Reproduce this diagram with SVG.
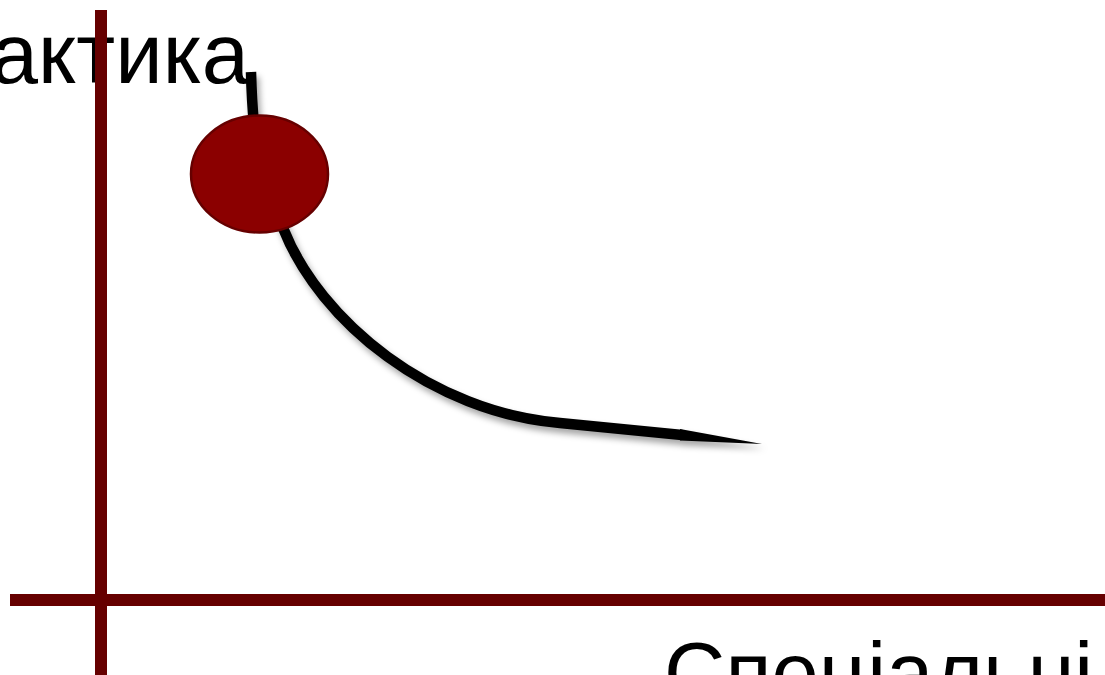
<svg xmlns="http://www.w3.org/2000/svg" width="1105" height="675" viewBox="0 0 1105 675">
<style>
.lbl{font-family:"Liberation Sans",Arial,sans-serif;font-size:85px;fill:#000}
.axis{fill:#660000}
</style>
<defs>
<filter id="sh" x="-20%" y="-20%" width="140%" height="140%">
<feDropShadow dx="3" dy="5" stdDeviation="3" flood-color="#000" flood-opacity="0.35"/>
</filter>
</defs>
<rect width="1105" height="675" fill="#fff"/>
<g id="labels">
<text class="lbl" x="249" y="83" text-anchor="end">Практика</text>
<text class="lbl" x="664" y="702">Спеціальні</text>
</g>
<g id="axes">
<rect class="axis" x="95" y="10" width="12" height="665"/>
<rect class="axis" x="10" y="594" width="1095" height="12"/>
</g>
<g id="connectors" filter="url(#sh)">
<path d="M251,72 C253,150 262,190 283,228 C320,322 432,412 560,423 L682,435" fill="none" stroke="#000" stroke-width="10.5"/>
<polygon points="680,429 762,444 680,440.5" fill="#000"/>
</g>
<g id="node">
<ellipse cx="259.5" cy="174" rx="68.5" ry="58.5" fill="#8b0000" stroke="#660000" stroke-width="2.5"/>
</g>
</svg>
